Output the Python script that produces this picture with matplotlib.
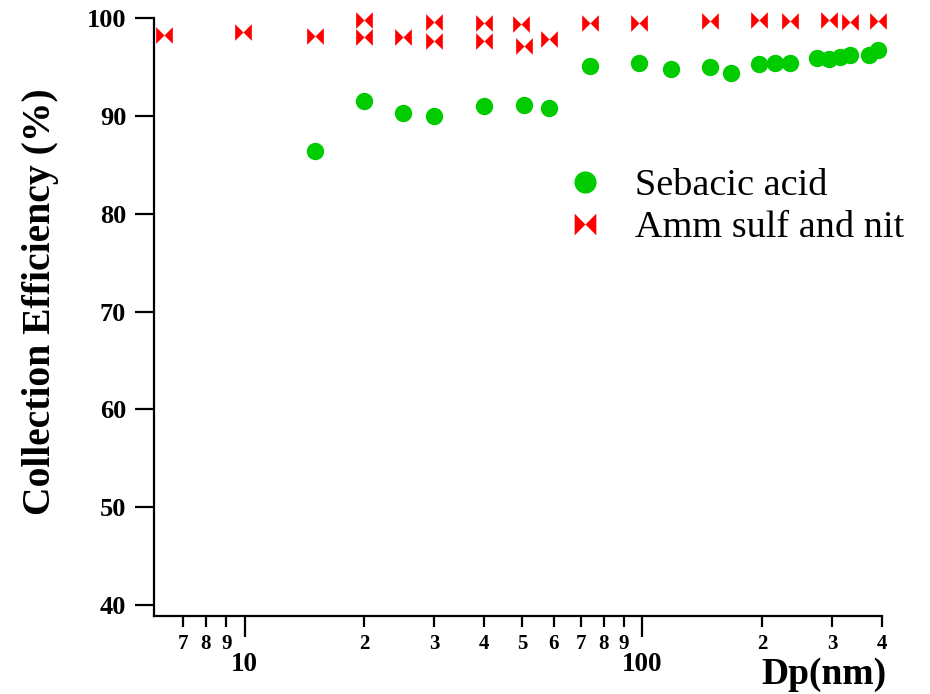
import matplotlib
matplotlib.use("Agg")
import matplotlib.pyplot as plt
from matplotlib.path import Path
import matplotlib.ticker as mticker

# ---- data ----
seb_dp = [15, 20, 25, 30, 40, 50.4, 58.3, 74, 98.4, 118, 148, 167, 197, 216, 236, 275, 295, 314, 334, 372, 392]
seb_ce = [86.46, 91.56, 90.27, 90.0, 91.0, 91.12, 90.78, 95.1, 95.37, 94.8, 94.97, 94.39, 95.3, 95.37, 95.37,
          95.95, 95.78, 96.05, 96.19, 96.19, 96.73]

amm_dp = [6.29, 9.94, 15, 20, 20, 25, 30, 30, 40, 40, 49.5, 50.4, 58.3, 74, 98.4, 148, 197, 236, 295, 334, 392]
amm_ce = [98.27, 98.6, 98.16, 99.8, 98.03, 98.1, 99.6, 97.7, 99.5, 97.7, 99.4, 97.14, 97.86, 99.5, 99.5,
          99.7, 99.8, 99.7, 99.8, 99.6, 99.7]

major_ticks = [10, 100]
major_labels = ["10", "100"]
minor_ticks = [7, 8, 9, 20, 30, 40, 50, 60, 70, 80, 90, 200, 300, 400]
minor_labels = ["7", "8", "9", "2", "3", "4", "5", "6", "7", "8", "9", "2", "3", "4"]
y_ticks = [40, 50, 60, 70, 80, 90, 100]

serif = ["Liberation Serif", "DejaVu Serif"]
plt.rcParams["font.family"] = serif

fig = plt.figure(figsize=(9.30, 6.94), dpi=100)
ax = fig.add_axes([154 / 930, 1 - 616 / 694, (882 - 154) / 930, (616 - 18) / 694])

bowtie = Path([(-1, -1), (0, 0), (1, -1), (1, 1), (0, 0), (-1, 1), (-1, -1)],
              [Path.MOVETO, Path.LINETO, Path.LINETO, Path.LINETO, Path.LINETO, Path.LINETO, Path.CLOSEPOLY])

ax.plot(seb_dp, seb_ce, linestyle="none", marker="o", ms=11.5, color="#00CC00", mec="#00CC00",
        label="Sebacic acid", zorder=3, clip_on=False)
ax.plot(amm_dp, amm_ce, linestyle="none", marker=bowtie, ms=12, color="#FF0000", mec="#FF0000", mew=0,
        label="Amm sulf and nit", zorder=3, clip_on=False)

ax.set_xscale("log")
ax.set_xlim(5.92, 401)
ax.set_ylim(38.9, 100)

ax.xaxis.set_major_locator(mticker.FixedLocator(major_ticks))
ax.xaxis.set_major_formatter(mticker.FixedFormatter(major_labels))
ax.xaxis.set_minor_locator(mticker.FixedLocator(minor_ticks))
ax.xaxis.set_minor_formatter(mticker.FixedFormatter(minor_labels))
ax.set_yticks(y_ticks)

for s in ["top", "right"]:
    ax.spines[s].set_visible(False)
for s in ["left", "bottom"]:
    ax.spines[s].set_linewidth(1.6)

ax.tick_params(axis="y", which="major", length=14, width=1.6, pad=6, labelsize=19, direction="out")
ax.tick_params(axis="x", which="major", length=15, width=1.6, pad=11, labelsize=19.5, direction="out")
ax.tick_params(axis="x", which="minor", length=8, width=1.6, pad=5, labelsize=15, direction="out")
for lab in ax.get_xticklabels(which="both") + ax.get_yticklabels():
    lab.set_fontweight("bold")

ax.set_ylabel("Collection Efficiency (%)", fontsize=28.5, fontweight="bold")
ax.yaxis.set_label_coords(-0.131, 0.525)
fig.text(886 / 930, 1 - 674 / 694, "Dp(nm)", fontsize=27, fontweight="bold", ha="right", va="center")

leg = ax.legend(loc="upper left", bbox_to_anchor=(551 / 930, 1 - 153 / 694), bbox_transform=fig.transFigure,
                frameon=False, fontsize=27.5, handlelength=1.0, handletextpad=0.8, labelspacing=0.2,
                borderaxespad=0, markerscale=1.3)

fig.savefig("out.png", dpi=100)
